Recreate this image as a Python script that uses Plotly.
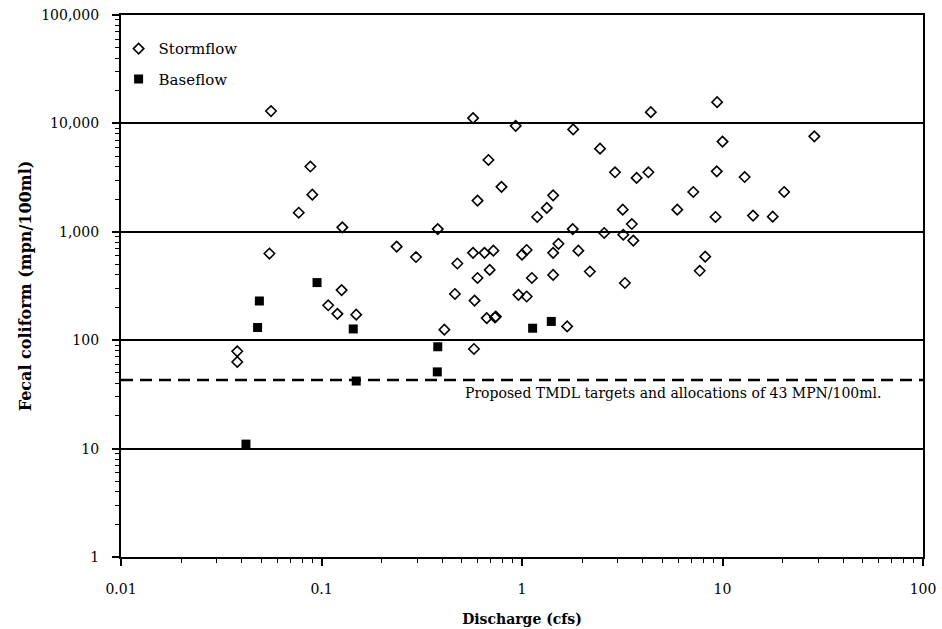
import math
import plotly.graph_objects as go

# ---------------- data ----------------
storm_q = [0.056, 0.088, 0.090, 0.077, 0.127, 0.055, 0.038, 0.038, 0.126, 0.108,
           0.120, 0.149, 0.237, 0.296, 0.38, 0.41, 0.576, 0.476, 0.463, 0.57,
           0.93, 1.80, 2.45, 2.91, 0.68, 0.79, 0.60, 1.43, 1.33, 1.19,
           1.79, 2.57, 0.57, 0.65, 0.72, 1.00, 1.055, 1.52, 1.43, 1.91,
           0.69, 0.60, 1.12, 1.43, 2.18, 3.26, 0.58, 0.96, 1.055, 0.667,
           0.733, 0.74, 1.68, 4.39, 9.4, 28.7, 10.0, 4.27, 3.73, 9.36,
           12.9, 7.15, 20.3, 3.18, 5.95, 9.23, 14.2, 17.8, 3.53, 3.2,
           3.59, 8.2, 7.7]
storm_fc = [13000, 4000, 2200, 1500, 1100, 630, 79, 63, 290, 210,
            175, 172, 730, 585, 1060, 125, 83, 510, 267, 11200,
            9500, 8800, 5850, 3540, 4600, 2600, 1940, 2170, 1660, 1370,
            1060, 975, 640, 640, 670, 615, 680, 775, 640, 670,
            445, 375, 375, 400, 430, 337, 232, 262, 253, 160,
            162, 165, 134, 12700, 15700, 7600, 6800, 3540, 3140, 3610,
            3200, 2330, 2330, 1600, 1600, 1370, 1410, 1380, 1180, 940,
            830, 590, 437]

base_q = [0.095, 0.049, 0.048, 0.144, 0.149, 0.042, 0.38, 0.378, 1.13, 1.40]
base_fc = [340, 230, 131, 127, 42, 11, 87, 51, 129, 149]

TARGET = 43
target_label = "Proposed TMDL targets and allocations of 43 MPN/100ml."

x_tickvals = [0.01, 0.1, 1, 10, 100]
x_ticktext = ["0.01", "0.1", "1", "10", "100"]
y_tickvals = [1, 10, 100, 1000, 10000, 100000]
y_ticktext = ["1", "10", "100", "1,000", "10,000", "100,000"]

# ---------------- figure ----------------
SERIF = "DejaVu Serif"
x_range = [x_tickvals[0], x_tickvals[-1]]

x_minor = [m * 10 ** k for k in range(-2, 2) for m in range(2, 10)]
y_minor = [m * 10 ** k for k in range(0, 5) for m in range(2, 10)]

fig = go.Figure()

fig.add_trace(go.Scatter(
    x=x_range, y=[TARGET, TARGET], mode="lines",
    line=dict(color="black", width=2.5, dash="12px,7px"),
    showlegend=False, hoverinfo="skip",
))

fig.add_trace(go.Scatter(
    x=storm_q, y=storm_fc, mode="markers", name="Stormflow",
    legendgroup="s",
    marker=dict(symbol="diamond-open", size=8, color="black",
                line=dict(color="black", width=1.6)),
))
fig.add_trace(go.Scatter(
    x=base_q, y=base_fc, mode="markers", name="Baseflow",
    legendgroup="b",
    marker=dict(symbol="square", size=9, color="black"),
))

fig.add_annotation(
    text=target_label, xref="paper", yref="y",
    x=0.427, y=math.log10(TARGET), xanchor="left", yanchor="top",
    yshift=-3, showarrow=False,
    font=dict(family=SERIF, size=14, color="black"),
)

axis_common = dict(
    type="log", showline=True, linecolor="black", linewidth=2.2,
    mirror=True, ticks="outside", ticklen=7, tickwidth=1.5,
    tickcolor="black", zeroline=False, automargin=False,
    tickfont=dict(family=SERIF, size=14, color="black"),
)

fig.update_xaxes(
    **axis_common,
    range=[-2, 2], tickvals=x_tickvals, ticktext=x_ticktext,
    showgrid=False, ticklabelstandoff=11,
    minor=dict(tickmode="array", tickvals=x_minor, ticks="outside",
               ticklen=4, tickwidth=1.2, tickcolor="black", showgrid=False),
    title=dict(text="<b>Discharge (cfs)</b>", standoff=18,
               font=dict(family=SERIF, size=14, color="black")),
)
fig.update_yaxes(
    **axis_common,
    range=[0, 5], tickvals=y_tickvals, ticktext=y_ticktext,
    showgrid=True, gridcolor="black", gridwidth=1.6,
    ticklabelstandoff=10,
    minor=dict(tickmode="array", tickvals=y_minor, ticks="outside",
               ticklen=4, tickwidth=1.2, tickcolor="black", showgrid=False),
    title=dict(text="<b>Fecal coliform (mpn/100ml)</b>", standoff=6,
               font=dict(family=SERIF, size=16, color="black")),
)

fig.update_layout(
    width=942, height=629,
    margin=dict(l=121, r=19, t=15, b=72),
    paper_bgcolor="white", plot_bgcolor="white",
    showlegend=True,
    legend=dict(x=-0.003, y=0.968, xanchor="left", yanchor="top",
                bgcolor="rgba(0,0,0,0)", tracegroupgap=8,
                font=dict(family=SERIF, size=15, color="black")),
    font=dict(family=SERIF, color="black"),
)

# remove the browser's default 8px body margin so the figure fills the window
fig.write_html("out.html",
               config={"displayModeBar": False},
               post_script="document.body.style.margin='0';"
                           "document.body.style.overflow='hidden';")
